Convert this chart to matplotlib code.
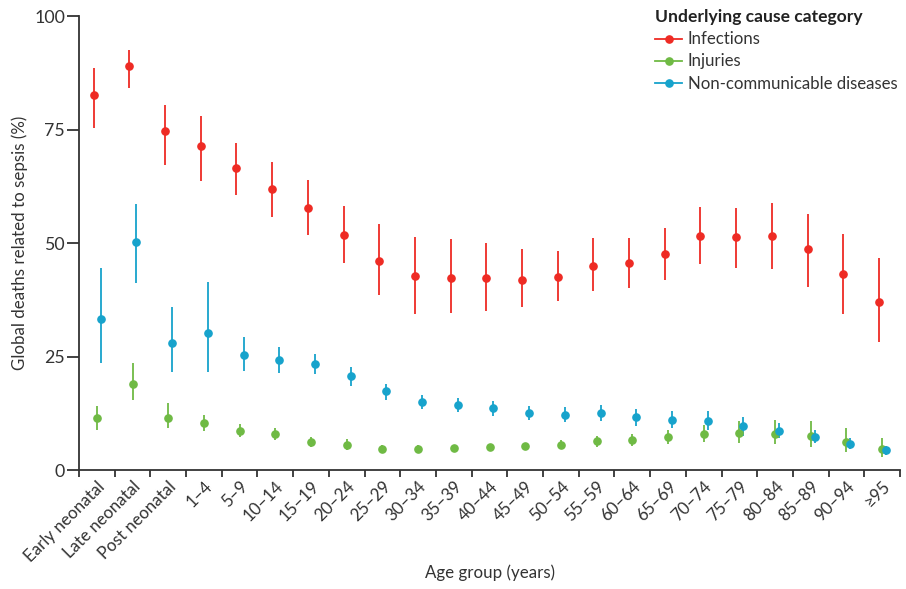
import numpy as np
import matplotlib
matplotlib.use("Agg")
import matplotlib.pyplot as plt
from matplotlib.lines import Line2D

plt.rcParams['font.family'] = ['Lato', 'DejaVu Sans']

# age groups
age_groups = ["Early neonatal", "Late neonatal", "Post neonatal", "1–4", "5–9",
              "10–14", "15–19", "20–24", "25–29", "30–34", "35–39", "40–44",
              "45–49", "50–54", "55–59", "60–64", "65–69", "70–74", "75–79",
              "80–84", "85–89", "90–94", "≥95"]

# Infections: estimate, lower, upper
inf_mid = [82.6, 89.1, 74.6, 71.4, 66.6, 62.0, 57.8, 51.8, 46.0, 42.7, 42.4, 42.4,
           41.9, 42.5, 44.9, 45.5, 47.6, 51.6, 51.4, 51.6, 48.7, 43.2, 37.1]
inf_lo = [75.3, 84.2, 67.2, 63.6, 60.6, 55.8, 51.7, 45.5, 38.5, 34.4, 34.5, 35.0,
          35.8, 37.2, 39.4, 40.2, 41.9, 45.4, 44.4, 44.2, 40.4, 34.4, 28.1]
inf_hi = [88.5, 92.5, 80.4, 78.0, 72.0, 67.8, 63.9, 58.1, 54.1, 51.4, 50.8, 50.1,
          48.6, 48.3, 51.0, 51.2, 53.4, 57.9, 57.8, 58.9, 56.3, 51.9, 46.8]

# Injuries
inj_mid = [11.4, 18.9, 11.5, 10.3, 8.6, 7.9, 6.1, 5.5, 4.7, 4.6, 4.8, 5.0,
           5.2, 5.5, 6.3, 6.6, 7.2, 7.9, 8.2, 7.9, 7.5, 6.1, 4.7]
inj_lo = [8.8, 15.4, 9.2, 8.6, 7.2, 6.6, 5.0, 4.4, 3.8, 3.8, 4.0, 4.2,
          4.4, 4.6, 5.1, 5.4, 5.7, 6.1, 6.0, 5.7, 5.0, 4.0, 2.9]
inj_hi = [14.2, 23.5, 14.7, 12.1, 10.1, 9.3, 7.3, 6.8, 5.5, 5.5, 5.6, 5.8,
          6.0, 6.6, 7.6, 7.9, 8.8, 9.9, 10.9, 11.0, 10.8, 9.2, 7.1]

# Non-communicable diseases
ncd_mid = [33.2, 50.2, 28.0, 30.1, 25.4, 24.2, 23.3, 20.7, 17.3, 14.9, 14.3, 13.6,
           12.5, 12.2, 12.5, 11.6, 11.0, 10.7, 9.7, 8.6, 7.2, 5.7, 4.3]
ncd_lo = [23.6, 41.3, 21.7, 21.7, 21.9, 21.3, 21.1, 18.4, 15.4, 13.4, 12.7, 12.0,
          11.0, 10.6, 10.8, 9.8, 9.2, 8.8, 7.6, 7.0, 5.9, 4.6, 3.3]
ncd_hi = [44.4, 58.6, 36.0, 41.5, 29.2, 27.2, 25.6, 22.8, 18.9, 16.5, 15.8, 15.2,
          14.1, 13.9, 14.3, 13.4, 13.0, 13.0, 11.7, 10.4, 8.8, 7.1, 5.4]

red = "#ee2b24"
green = "#6fba44"
blue = "#17a3cc"
ink = "#333333"
fs = 12.2

fig = plt.figure(figsize=(9.06, 5.89), dpi=100)
ax = fig.add_axes([0.0872, 0.2020, 0.9062, 0.7708])

x = np.arange(len(age_groups)) + 0.5
series = [
    (inf_mid, inf_lo, inf_hi, red, -0.09, "Infections"),
    (inj_mid, inj_lo, inj_hi, green, 0.0, "Injuries"),
    (ncd_mid, ncd_lo, ncd_hi, blue, 0.11, "Non-communicable diseases"),
]
handles = []
for mid, lo, hi, col, off, name in series:
    mid = np.array(mid)
    yerr = [mid - np.array(lo), np.array(hi) - mid]
    ax.errorbar(x + off, mid, yerr=yerr, fmt='o', color=col, ms=5.2,
                elinewidth=1.3, capsize=0, zorder=3)
    handles.append(Line2D([0], [0], color=col, lw=1.3, marker='o', ms=5.2, label=name))

ax.set_xlim(0, len(age_groups))
ax.set_ylim(0, 100)
ax.set_yticks([0, 25, 50, 75, 100])
ax.set_xticks(np.arange(len(age_groups) + 1))
ax.set_xticklabels([])
ax.set_xticks(x, minor=True)
ax.set_xticklabels(age_groups, minor=True, rotation=45, ha='right', va='top',
                   rotation_mode='anchor')

for s in ['top', 'right']:
    ax.spines[s].set_visible(False)
for s in ['left', 'bottom']:
    ax.spines[s].set_linewidth(1.3)
    ax.spines[s].set_color(ink)

ax.tick_params(axis='y', length=9, width=1.3, color=ink, labelsize=12.8,
               pad=1, labelcolor=ink)
ax.tick_params(axis='x', which='major', length=5, width=1.3, color=ink)
ax.tick_params(axis='x', which='minor', length=0, pad=6, labelsize=fs,
               labelcolor=ink)

ax.set_ylabel("Global deaths related to sepsis (%)", fontsize=fs, color=ink)
ax.yaxis.set_label_coords(-0.062, 0.5)
ax.set_xlabel("Age group (years)", fontsize=fs, color=ink)
ax.xaxis.set_label_coords(0.5, -0.208)

leg = ax.legend(handles=handles, title="Underlying cause category",
                loc='upper left', bbox_to_anchor=(652 / 906, 1 - 6 / 589),
                bbox_transform=fig.transFigure, frameon=False,
                fontsize=12.1, title_fontproperties={'weight': 'bold', 'size': 12.6},
                alignment='left', handlelength=1.6, handletextpad=0.32,
                labelspacing=0.36, borderaxespad=0, borderpad=0.2)
for t in leg.get_texts():
    t.set_color(ink)
leg.get_title().set_color("#222222")

fig.savefig("out.png", dpi=100)
